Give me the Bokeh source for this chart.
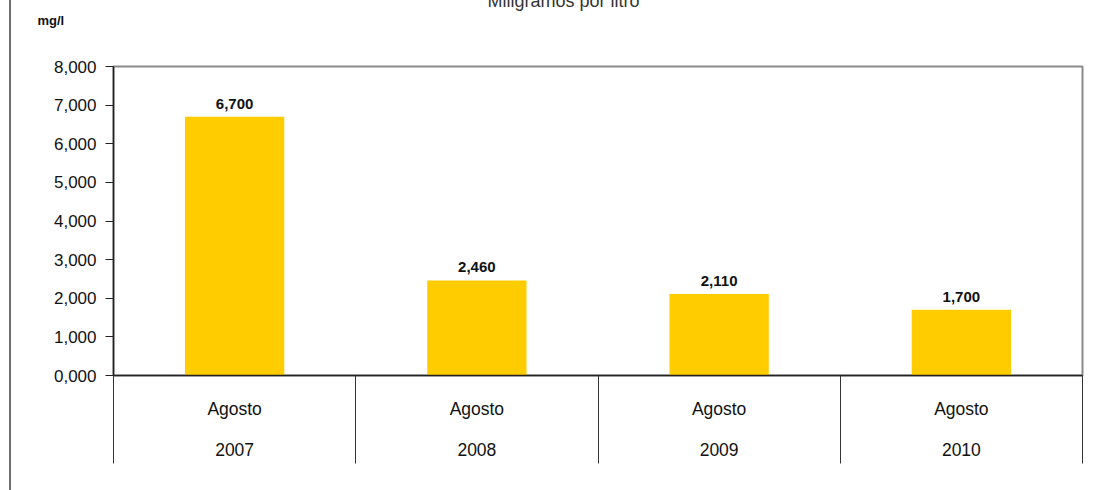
from bokeh.plotting import figure
from bokeh.models import (ColumnDataSource, Range1d, LinearAxis, FixedTicker, Title)
from bokeh.core.properties import value
from bokeh.embed import file_html
from bokeh.resources import INLINE

# ---- data ----
years = ["2007", "2008", "2009", "2010"]
months = ["Agosto", "Agosto", "Agosto", "Agosto"]
values = [6.700, 2.460, 2.110, 1.700]
y_ticks = [0, 1, 2, 3, 4, 5, 6, 7, 8]
title_text = "Miligramos por litro"
unit_text = "mg/l"


def fmt(v):
    return f"{v:.3f}".replace(".", ",")


FONT = "Liberation Sans"
n = len(years)
pos = [i + 0.5 for i in range(n)]          # category centres on an index scale
labels = [fmt(v) for v in values]
src = ColumnDataSource(dict(x=pos, value=values, label=labels))

p = figure(width=1090, height=502, output_backend="svg", toolbar_location=None,
           x_range=Range1d(0, n), y_range=Range1d(0, 8),
           x_axis_location=None, y_axis_location=None,
           min_border_left=102, min_border_right=19, min_border_top=78, min_border_bottom=115)
p.styles = {"margin-left": "9px", "margin-top": "-12px", "border-left": "2px solid #6e6e6e"}

p.xgrid.visible = False
p.ygrid.visible = False
p.outline_line_color = "#8a8a8a"
p.outline_line_width = 2
p.background_fill_color = "white"
p.border_fill_color = "white"

p.vbar(x="x", top="value", width=0.41, source=src, fill_color="#FFCC00", line_color=None)
p.text(x="x", y="value", text="label", source=src, text_align="center", text_baseline="bottom",
       y_offset=-8, text_font=value(FONT), text_font_style="bold", text_font_size="15px",
       text_color="#111111")

# y axis
yax = LinearAxis(ticker=FixedTicker(ticks=y_ticks, minor_ticks=[]),
                 major_label_overrides={t: fmt(t) for t in y_ticks})
yax.axis_line_color = "#222222"
yax.axis_line_width = 1.5
yax.major_tick_out = 8
yax.major_tick_in = 0
yax.major_tick_line_color = "#222222"
yax.minor_tick_out = 0
yax.minor_tick_in = 0
yax.major_label_standoff = 9
yax.major_label_text_font = FONT
yax.major_label_text_font_size = "17px"
yax.major_label_text_color = "#111111"
p.add_layout(yax, "left")

# x axis row 1 (month) with separator lines drawn as long minor ticks
mon_axis = LinearAxis(ticker=FixedTicker(ticks=pos, minor_ticks=list(range(n + 1))),
                      major_label_overrides={x: m for x, m in zip(pos, months)})
mon_axis.axis_line_color = "#222222"
mon_axis.axis_line_width = 1.5
mon_axis.major_tick_out = 0
mon_axis.major_tick_in = 0
mon_axis.minor_tick_out = 88
mon_axis.minor_tick_in = 0
mon_axis.minor_tick_line_color = "#333333"
mon_axis.major_label_standoff = -65
mon_axis.major_label_text_font = FONT
mon_axis.major_label_text_font_size = "17.5px"
mon_axis.major_label_text_color = "#111111"
p.add_layout(mon_axis, "below")

# x axis row 2 (year)
yr_axis = LinearAxis(ticker=FixedTicker(ticks=pos, minor_ticks=[]),
                     major_label_overrides={x: y for x, y in zip(pos, years)})
yr_axis.axis_line_color = None
yr_axis.major_tick_out = 0
yr_axis.major_tick_in = 0
yr_axis.minor_tick_out = 0
yr_axis.minor_tick_in = 0
yr_axis.major_label_standoff = 21
yr_axis.major_label_text_font = FONT
yr_axis.major_label_text_font_size = "17.5px"
yr_axis.major_label_text_color = "#111111"
p.add_layout(yr_axis, "below")

# above the frame: an empty spacer, the unit label, then the title (cut off at the top in the original)
p.add_layout(Title(text=" ", align="left", standoff=22,
                   text_font=FONT, text_font_size="13px"), "above")
p.add_layout(Title(text=unit_text, align="left", offset=-76, standoff=0,
                   text_font=FONT, text_font_style="bold", text_font_size="13px",
                   text_color="#111111"), "above")
p.add_layout(Title(text=title_text, align="left", offset=374, standoff=0,
                   text_font=FONT, text_font_style="normal", text_font_size="18px",
                   text_color="#333333"), "above")

open("out.html", "w").write(file_html(p, INLINE))
